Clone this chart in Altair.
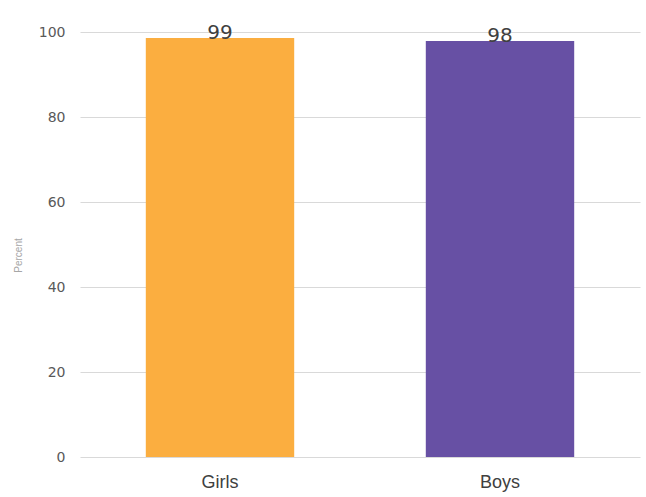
import altair as alt
import pandas as pd

groups = ["Girls", "Boys"]
percents = [98.6, 97.9]
colors = ["#FBAE40", "#6750A4"]

df = pd.DataFrame({"group": groups, "percent": percents})

num_font = "DejaVu Sans"
text_font = "Liberation Sans"

x = alt.X(
    "group:N",
    sort=groups,
    title=None,
    scale=alt.Scale(paddingInner=0.47, paddingOuter=0.235),
    axis=alt.Axis(
        labelAngle=0,
        ticks=False,
        domain=False,
        labelFontSize=18,
        labelColor="#404040",
        labelFont=text_font,
        labelPadding=16,
    ),
)

bars = alt.Chart(df).mark_bar().encode(
    x=x,
    y=alt.Y(
        "percent:Q",
        title="Percent",
        scale=alt.Scale(domain=[0, 100]),
        axis=alt.Axis(
            values=[0, 20, 40, 60, 80, 100],
            domain=False,
            ticks=False,
            gridColor="#d9d9d9",
            gridWidth=1,
            labelFontSize=14,
            labelColor="#595959",
            labelFont=num_font,
            labelPadding=15,
            titleFontSize=10,
            titleFontWeight="normal",
            titleColor="#a6a6a6",
            titleFont=text_font,
            titlePadding=15,
            titleY=223,
        ),
    ),
    color=alt.Color("group:N", scale=alt.Scale(domain=groups, range=colors), legend=None),
)

labels = alt.Chart(df).mark_text(
    baseline="middle", dy=-5, fontSize=20, color="#404040", font=num_font
).encode(
    x=alt.X("group:N", sort=groups),
    y="percent:Q",
    text=alt.Text("percent:Q", format=".0f"),
)

chart = (
    alt.layer(bars, labels)
    .properties(
        width=560,
        height=425,
        autosize=alt.AutoSizeParams(type="none"),
        padding={"left": 80, "top": 32, "right": 6, "bottom": 40},
    )
    .configure_view(stroke=None)
)

chart.save("out.html", embed_options={"renderer": "svg", "actions": False})
